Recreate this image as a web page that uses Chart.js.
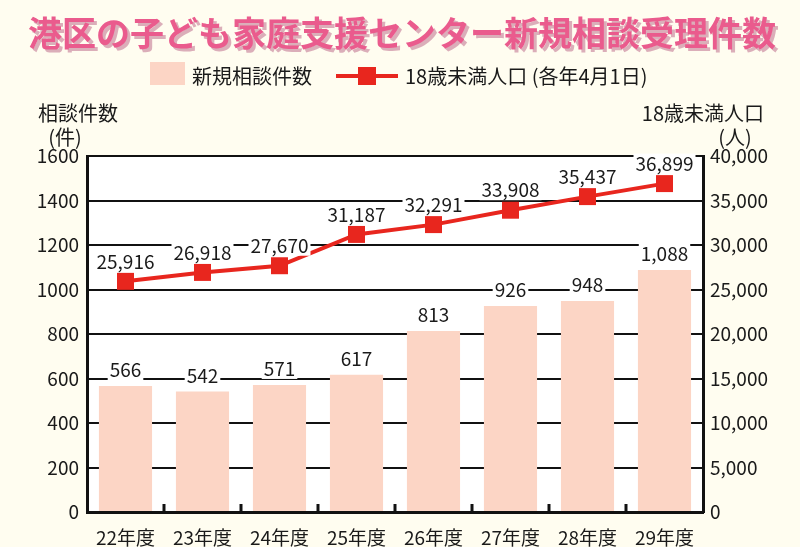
<!DOCTYPE html>
<html lang="ja">
<head>
<meta charset="utf-8">
<script src="https://cdn.jsdelivr.net/npm/chart.js@4/dist/chart.umd.min.js"></script>
<style>
  body { margin: 0; background: #fffdf0; }
  canvas { display: block; }
</style>
</head>
<body>
<canvas id="chart" width="800" height="547" style="width:800px;height:547px"></canvas>
<script>
// データ
const categories = ['22年度', '23年度', '24年度', '25年度', '26年度', '27年度', '28年度', '29年度'];
const consultations = [566, 542, 571, 617, 813, 926, 948, 1088];
const population = [25916, 26918, 27670, 31187, 32291, 33908, 35437, 36899];
const leftTicks = [0, 200, 400, 600, 800, 1000, 1200, 1400, 1600];
const rightTicks = [0, 5000, 10000, 15000, 20000, 25000, 30000, 35000, 40000];

const FONT = '"Noto Sans CJK JP", "Noto Sans", sans-serif';
const BAR_COLOR = '#fcd5c5';
const LINE_COLOR = '#e8261e';
const TEXT_COLOR = '#1a1a1a';

// 背景・タイトル・凡例・軸タイトル・値ラベル
const decorations = {
    id: 'decorations',
    beforeDraw(chart) {
        const ctx = chart.ctx;
        const a = chart.chartArea;
        ctx.save();
        ctx.fillStyle = '#fffdf0';
        ctx.fillRect(0, 0, chart.width, chart.height);
        ctx.fillStyle = '#ffffff';
        ctx.fillRect(a.left, a.top, a.right - a.left, a.bottom - a.top);

        // タイトル
        ctx.font = 'bold 34px ' + FONT;
        ctx.textAlign = 'center';
        ctx.textBaseline = 'middle';
        ctx.shadowColor = 'rgba(190, 110, 140, 0.55)';
        ctx.shadowOffsetX = 3;
        ctx.shadowOffsetY = 3;
        ctx.fillStyle = '#ea5b8d';
        ctx.fillText('港区の子ども家庭支援センター新規相談受理件数', 402, 33);
        ctx.shadowColor = 'transparent';

        // 凡例
        ctx.fillStyle = BAR_COLOR;
        ctx.fillRect(150, 62, 35, 23);
        ctx.font = '20px ' + FONT;
        ctx.textAlign = 'left';
        ctx.fillStyle = TEXT_COLOR;
        ctx.fillText('新規相談件数', 192, 76);
        ctx.strokeStyle = LINE_COLOR;
        ctx.lineWidth = 4;
        ctx.beginPath();
        ctx.moveTo(336, 76);
        ctx.lineTo(398, 76);
        ctx.stroke();
        ctx.fillStyle = LINE_COLOR;
        ctx.fillRect(358, 67, 18, 18);
        ctx.fillStyle = TEXT_COLOR;
        ctx.fillText('18歳未満人口 (各年4月1日)', 405, 76);

        // 軸タイトル
        ctx.textAlign = 'left';
        ctx.fillText('相談件数', 38, 113);
        ctx.textAlign = 'center';
        ctx.fillText('(件)', 65, 137);
        ctx.textAlign = 'right';
        ctx.fillText('18歳未満人口', 764, 113);
        ctx.textAlign = 'center';
        ctx.fillText('(人)', 735, 137);
        ctx.restore();
    },
    afterDraw(chart) {
        const ctx = chart.ctx;
        const a = chart.chartArea;
        const xScale = chart.scales.x;
        ctx.save();

        // カテゴリ境界の内向き目盛り
        ctx.strokeStyle = '#111';
        ctx.lineWidth = 3;
        for (let i = 1; i < categories.length; i++) {
            const x = (xScale.getPixelForTick(i - 1) + xScale.getPixelForTick(i)) / 2;
            ctx.beginPath();
            ctx.moveTo(x, a.bottom);
            ctx.lineTo(x, a.bottom - 8);
            ctx.stroke();
        }

        // 値ラベル（白地つき）
        ctx.font = '19px ' + FONT;
        ctx.textAlign = 'center';
        ctx.textBaseline = 'middle';
        const drawLabel = (text, x, y) => {
            const w = ctx.measureText(text).width;
            ctx.fillStyle = '#ffffff';
            ctx.fillRect(x - w / 2 - 2, y - 10, w + 4, 20);
            ctx.fillStyle = TEXT_COLOR;
            ctx.fillText(text, x, y);
        };
        // dataset 0 = 折れ線, dataset 1 = 棒
        chart.getDatasetMeta(1).data.forEach((bar, i) => {
            drawLabel(consultations[i].toLocaleString('en-US'), bar.x, bar.y - 16);
        });
        chart.getDatasetMeta(0).data.forEach((pt, i) => {
            drawLabel(population[i].toLocaleString('en-US'), pt.x, pt.y - 20);
        });
        ctx.restore();
    }
};

new Chart(document.getElementById('chart'), {
    type: 'bar',
    data: {
        labels: categories,
        datasets: [
            {
                type: 'line',
                label: '18歳未満人口 (各年4月1日)',
                data: population,
                yAxisID: 'y1',
                borderColor: LINE_COLOR,
                borderWidth: 4,
                pointStyle: 'rect',
                pointRadius: 12,
                pointBackgroundColor: LINE_COLOR,
                pointBorderWidth: 0,
                tension: 0,
                order: 1
            },
            {
                label: '新規相談件数',
                data: consultations,
                yAxisID: 'y',
                backgroundColor: BAR_COLOR,
                barPercentage: 0.69,
                categoryPercentage: 1.0,
                order: 2
            }
        ]
    },
    options: {
        responsive: false,
        animation: false,
        layout: { padding: { top: 156, left: 0, right: 0, bottom: 0 } },
        plugins: {
            legend: { display: false },
            title: { display: false },
            tooltip: { enabled: false }
        },
        scales: {
            x: {
                offset: true,
                grid: { display: false },
                border: { display: true, color: '#111', width: 3 },
                ticks: {
                    color: TEXT_COLOR,
                    font: { family: FONT, size: 19 },
                    padding: 6
                },
                afterFit(scale) { scale.height = 35; }
            },
            y: {
                position: 'left',
                min: 0,
                max: 1600,
                afterBuildTicks(scale) { scale.ticks = leftTicks.map(v => ({ value: v })); },
                grid: { color: '#111', lineWidth: 2, drawTicks: false },
                border: { display: true, color: '#111', width: 3 },
                ticks: {
                    color: TEXT_COLOR,
                    font: { family: FONT, size: 19 },
                    padding: 8,
                    callback: v => String(v)
                },
                afterFit(scale) { scale.width = 87; }
            },
            y1: {
                position: 'right',
                min: 0,
                max: 40000,
                afterBuildTicks(scale) { scale.ticks = rightTicks.map(v => ({ value: v })); },
                grid: { drawOnChartArea: false, drawTicks: false },
                border: { display: true, color: '#111', width: 3 },
                ticks: {
                    color: TEXT_COLOR,
                    font: { family: FONT, size: 19 },
                    padding: 7,
                    callback: v => v.toLocaleString('en-US')
                },
                afterFit(scale) { scale.width = 97; }
            }
        }
    },
    plugins: [decorations]
});
</script>
</body>
</html>
